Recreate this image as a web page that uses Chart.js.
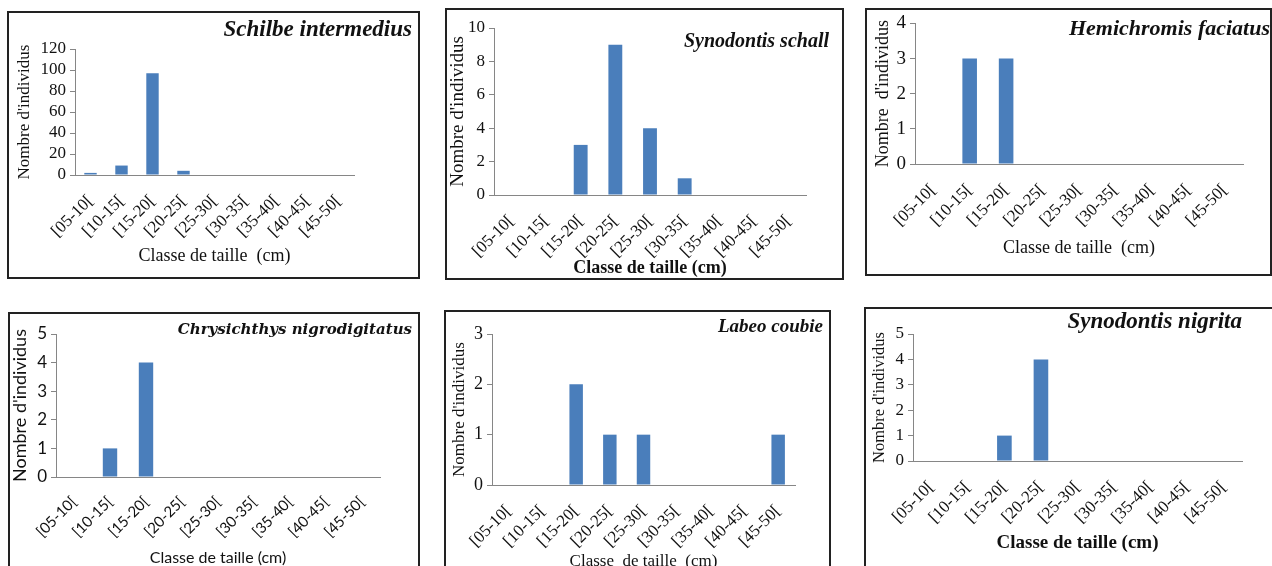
<!DOCTYPE html>
<html>
<head>
<meta charset="utf-8">
<script src="https://cdn.jsdelivr.net/npm/chart.js@4.4.0/dist/chart.umd.min.js"></script>
<style>
  body { margin: 0; background: #fff; width: 1272px; height: 566px; overflow: hidden; position: relative; }
  .frame { position: absolute; border: 2px solid #222; box-sizing: border-box; }
  canvas { position: absolute; }
</style>
</head>
<body>
<script>
// Classes de taille (cm)
const classes = ["[05-10[", "[10-15[", "[15-20[", "[20-25[", "[25-30[", "[30-35[", "[35-40[", "[40-45[", "[45-50["];

// Nombre d'individus par espèce
const schilbeIntermedius = [2, 9, 97, 4, 0, 0, 0, 0, 0];
const synodontisSchall = [0, 0, 3, 9, 4, 1, 0, 0, 0];
const hemichromisFaciatus = [0, 3, 3, 0, 0, 0, 0, 0, 0];
const chrysichthysNigrodigitatus = [0, 1, 4, 0, 0, 0, 0, 0, 0];
const labeoCoubie = [0, 0, 2, 1, 1, 0, 0, 0, 1];
const synodontisNigrita = [0, 0, 1, 4, 0, 0, 0, 0, 0];

// Échelles de l'axe Y
const yMax = [120, 10, 4, 5, 3, 5];
const yStep = [20, 2, 1, 1, 1, 1];

const barColor = "#4a7ebb";
const axisColor = "#868686";
const serif = "'Liberation Serif', 'Times New Roman', serif";

// Nom d'espèce dessiné en haut à droite du graphique
const speciesLabel = {
    id: "species",
    afterDraw(chart, args, opts) {
        const ctx = chart.ctx;
        ctx.save();
        ctx.font = opts.font;
        ctx.fillStyle = "#111";
        ctx.textAlign = "right";
        ctx.textBaseline = "middle";
        ctx.fillText(opts.text, opts.x, opts.y);
        ctx.restore();
    }
};

// Cadre et zone de tracé de chaque panneau (coordonnées de la page)
const panels = [
    { name: "Schilbe intermedius", values: schilbeIntermedius,
      box: [7, 11, 420, 279], plot: [75, 49, 175, 354], title: [412, 30], yTitleX: 25, xTitleY: 256,
      family: serif, yTick: 17, xTick: 17, yTitle: 17, xTitle: 18, xBold: false,
      speciesFont: "italic bold 23px " + serif,
      yText: "Nombre d'individus", xText: "Classe de taille  (cm)" },
    { name: "Synodontis schall", values: synodontisSchall,
      box: [445, 8, 844, 280], plot: [494, 28, 195, 806], title: [829, 42], yTitleX: 458, xTitleY: 268,
      family: serif, yTick: 17, xTick: 17, yTitle: 19, xTitle: 18, xBold: true,
      speciesFont: "italic bold 20px " + serif,
      yText: "Nombre d'individus", xText: "Classe de taille (cm)" },
    { name: "Hemichromis faciatus", values: hemichromisFaciatus,
      box: [865, 8, 1272, 276], plot: [915, 19, 164, 1243], title: [1270, 29], yTitleX: 883, xTitleY: 248,
      family: serif, yTick: 19, xTick: 17, yTitle: 18, xTitle: 18, xBold: false,
      speciesFont: "italic bold 22px " + serif,
      yText: "Nombre  d'individus", xText: "Classe de taille  (cm)" },
    { name: "Chrysichthys nigrodigitatus", values: chrysichthysNigrodigitatus,
      box: [8, 312, 420, 600], plot: [56, 334, 477, 380], title: [412, 330], yTitleX: 20, xTitleY: 558,
      family: "Lato, 'Open Sans', sans-serif", yTick: 17, xTick: 15, yTitle: 18, xTitle: 16, xBold: false,
      speciesFont: "italic bold 15px 'DejaVu Serif', serif",
      yText: "Nombre d'individus", xText: "Classe de taille (cm)" },
    { name: "Labeo coubie", values: labeoCoubie,
      box: [444, 310, 831, 600], plot: [492, 334, 485, 795], title: [823, 327], yTitleX: 460, xTitleY: 562,
      family: serif, yTick: 18, xTick: 17, yTitle: 17, xTitle: 17, xBold: false,
      speciesFont: "italic bold 19px " + serif,
      yText: "Nombre d'individus", xText: "Classe  de taille  (cm)" },
    { name: "Synodontis nigrita", values: synodontisNigrita,
      box: [864, 307, 1274, 600], plot: [913, 334, 461, 1242], title: [1242, 322], yTitleX: 880, xTitleY: 543,
      family: serif, yTick: 17, xTick: 17, yTitle: 16.5, xTitle: 19, xBold: true,
      speciesFont: "italic bold 23px " + serif,
      yText: "Nombre d'individus", xText: "Classe de taille (cm)" }
];

panels.forEach((p, i) => {
    const [bl, bt, br, bb] = p.box;
    const [x0, top, y0, x1] = p.plot;

    const frame = document.createElement("div");
    frame.className = "frame";
    Object.assign(frame.style, { left: bl + "px", top: bt + "px", width: (br - bl) + "px", height: (bb - bt) + "px" });
    document.body.appendChild(frame);

    const w = br - bl;
    const h = Math.min(bb, 566) - bt;
    const canvas = document.createElement("canvas");
    canvas.width = w;
    canvas.height = h;
    Object.assign(canvas.style, { left: bl + "px", top: bt + "px", width: w + "px", height: h + "px" });
    document.body.appendChild(canvas);

    const xAxisHeight = h - (y0 - bt);

    new Chart(canvas.getContext("2d"), {
        type: "bar",
        data: {
            labels: classes,
            datasets: [{
                data: p.values,
                backgroundColor: barColor,
                borderWidth: 0,
                barPercentage: 0.4,
                categoryPercentage: 1
            }]
        },
        options: {
            responsive: false,
            animation: false,
            layout: { padding: { top: top - bt, left: 0, right: br - x1, bottom: 0 } },
            plugins: {
                legend: { display: false },
                tooltip: { enabled: false },
                species: { text: p.name, font: p.speciesFont, x: p.title[0] - bl, y: p.title[1] - bt }
            },
            scales: {
                x: {
                    grid: { display: false },
                    border: { display: true, color: axisColor, width: 1 },
                    ticks: {
                        autoSkip: false, minRotation: 45, maxRotation: 45, padding: 8,
                        color: "#111", font: { family: p.family, size: p.xTick }
                    },
                    title: {
                        display: true, text: p.xText, color: "#111",
                        font: { family: p.family, size: p.xTitle, weight: p.xBold ? "bold" : "normal" },
                        padding: { top: 0, bottom: (bt + h - p.xTitleY) - p.xTitle * 0.6 }
                    },
                    afterFit: (s) => { s.height = xAxisHeight; }
                },
                y: {
                    min: 0, max: yMax[i],
                    ticks: {
                        stepSize: yStep[i], autoSkip: false, padding: 4,
                        color: "#111", font: { family: p.family, size: p.yTick }
                    },
                    grid: { display: true, drawOnChartArea: false, drawTicks: true, tickLength: 5, color: axisColor },
                    border: { display: true, color: axisColor, width: 1 },
                    title: {
                        display: true, text: p.yText, color: "#111",
                        font: { family: p.family, size: p.yTitle },
                        padding: { top: (p.yTitleX - bl) - p.yTitle * 0.6, bottom: 0 }
                    },
                    afterFit: (s) => { s.width = x0 - bl; }
                }
            }
        },
        plugins: [speciesLabel]
    });
});
</script>
</body>
</html>
